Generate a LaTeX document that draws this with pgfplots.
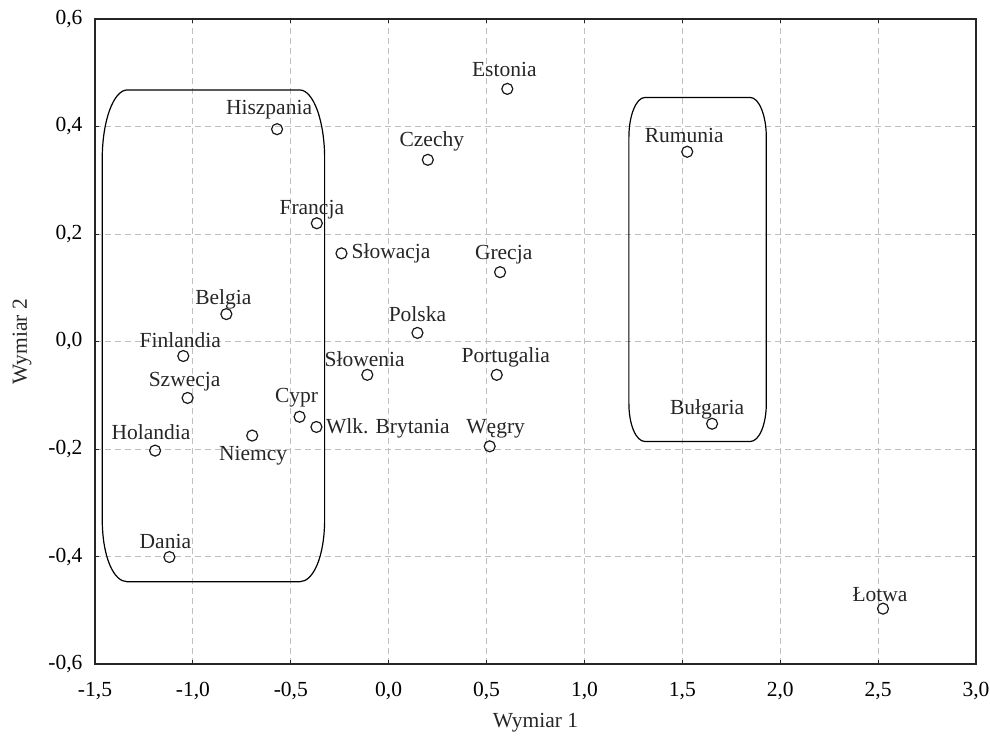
\documentclass[border=0pt]{standalone}
\usepackage{fontspec}
\setmainfont{Liberation Serif}
\usepackage{pgfplots}
\pgfplotsset{compat=1.18}

\begin{document}
\fontsize{10.75}{13}\selectfont
\begin{tikzpicture}
\path[use as bounding box] (-47.5pt,-36pt) rectangle (447.5pt,332pt);
\begin{axis}[
  name=ax,
  scale only axis,
  width=440.5pt, height=322.5pt,
  xmin=-1.5, xmax=3.0, ymin=-0.6, ymax=0.6,
  xtick={-1.5,-1.0,-0.5,0,0.5,1.0,1.5,2.0,2.5,3.0},
  ytick={-0.6,-0.4,-0.2,0,0.2,0.4,0.6},
  /pgf/number format/.cd, use comma, fixed, fixed zerofill, precision=1, assume math mode=true,
  /pgfplots/.cd,
  grid=major,
  major grid style={black!25, line width=0.4pt, dash pattern=on 3pt off 2pt},
  axis line style={black!85, line width=0.65pt},
  tick style={black!85, line width=0.5pt},
  major tick length=2pt,
  tick align=inside,
  xticklabel style={yshift=-5.5pt},
  yticklabel style={xshift=-2.5pt},
  clip=false,
]
\addplot[only marks, mark=o, mark size=2.75pt, mark options={fill=white, line width=0.6pt, black!90},
  point meta=explicit symbolic,
  visualization depends on={value \thisrow{anc} \as \myanc},
  visualization depends on={\thisrow{dx} \as \mydx},
  visualization depends on={\thisrow{dy} \as \mydy},
  nodes near coords,
  every node near coord/.append style={anchor=\myanc, inner sep=0pt, xshift=\mydx, yshift=\mydy, text=black!85},
] table[col sep=comma, x=x, y=y, meta=name] {
x,y,name,anc,dx,dy
0.606,0.470,Estonia,base,-1.5,6
0.200,0.338,Czechy,base,2,6.5
-0.570,0.395,Hiszpania,base,-4,7.5
1.525,0.353,Rumunia,base,-1.5,4.8
-0.367,0.220,Francja,base,-2.5,4.5
-0.241,0.164,Słowacja,mid west,4.8,0
0.569,0.129,Grecja,base,1.8,6.5
-0.829,0.051,Belgia,base,-1.5,5
0.147,0.016,Polska,base,0,5.5
-1.049,-0.027,Finlandia,base,-1.5,4.5
-0.109,-0.062,Słowenia,base,-1.3,4
0.552,-0.062,Portugalia,base,4.5,6.3
-1.027,-0.105,Szwecja,base,-1.5,5.8
-0.455,-0.140,Cypr,base,-1.5,7
-0.369,-0.159,Wlk. Brytania,mid west,4.5,-1
1.652,-0.153,Bułgaria,base,-2.5,4.8
-0.697,-0.175,Niemcy,base,0.5,-12.3
0.516,-0.195,Węgry,base,3,6.5
-1.193,-0.203,Holandia,base,-2,5.8
-1.120,-0.401,Dania,base,-2,4.2
2.525,-0.497,Łotwa,base,-1.5,3.5
};

\draw[black, line width=0.6pt]
  (axis cs:-1.335,0.468) -- (axis cs:-0.455,0.468)
  .. controls (axis cs:-0.3843,0.468) and (axis cs:-0.327,0.410) .. (axis cs:-0.327,0.340)
  -- (axis cs:-0.327,-0.330)
  .. controls (axis cs:-0.327,-0.400) and (axis cs:-0.3843,-0.447) .. (axis cs:-0.455,-0.447)
  -- (axis cs:-1.335,-0.447)
  .. controls (axis cs:-1.4057,-0.447) and (axis cs:-1.463,-0.400) .. (axis cs:-1.463,-0.330)
  -- (axis cs:-1.463,0.340)
  .. controls (axis cs:-1.463,0.410) and (axis cs:-1.4057,0.468) .. (axis cs:-1.335,0.468) -- cycle;

\draw[black, line width=0.6pt]
  (axis cs:1.309,0.454) -- (axis cs:1.847,0.454)
  .. controls (axis cs:1.8923,0.454) and (axis cs:1.929,0.420) .. (axis cs:1.929,0.380)
  -- (axis cs:1.929,-0.115)
  .. controls (axis cs:1.929,-0.155) and (axis cs:1.8923,-0.186) .. (axis cs:1.847,-0.186)
  -- (axis cs:1.309,-0.186)
  .. controls (axis cs:1.2637,-0.186) and (axis cs:1.227,-0.155) .. (axis cs:1.227,-0.115)
  -- (axis cs:1.227,0.380)
  .. controls (axis cs:1.227,0.420) and (axis cs:1.2637,0.454) .. (axis cs:1.309,0.454) -- cycle;
\end{axis}
\node[anchor=base, text=black!85] at ([yshift=-31.5pt]ax.south) {Wymiar 1};
\node[rotate=90, anchor=base, text=black!85] at ([xshift=-34pt]ax.west) {Wymiar 2};
\end{tikzpicture}
\end{document}
